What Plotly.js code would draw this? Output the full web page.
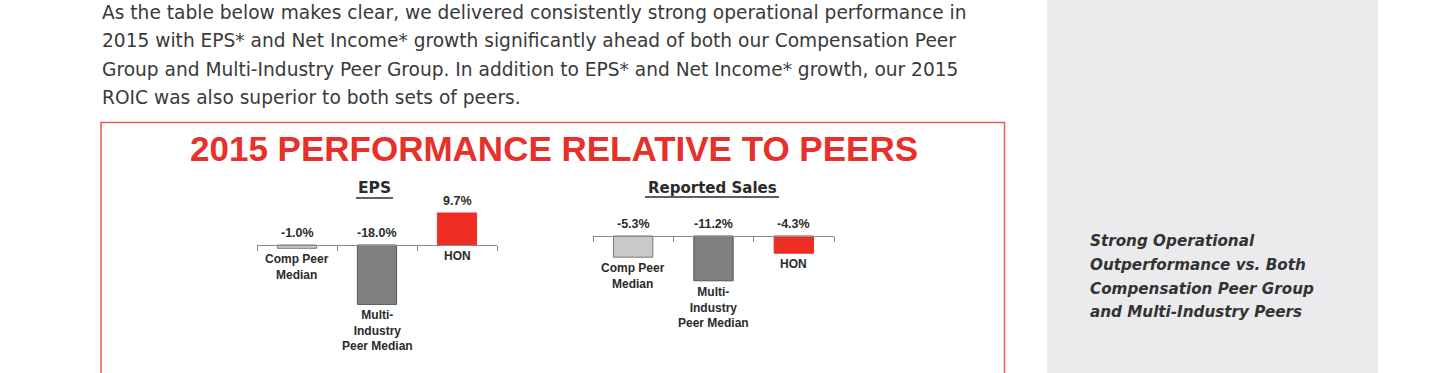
<!DOCTYPE html>
<html>
<head>
<meta charset="utf-8">
<script src="https://cdn.plot.ly/plotly-3.0.1.min.js"></script>
<style>
html,body{margin:0;padding:0;background:#fff;overflow:hidden;}
#chart{width:1440px;height:373px;}
</style>
</head>
<body>
<div id="chart"></div>
<script>
// ---- data ----
const categories = ["Comp Peer Median", "Multi-Industry Peer Median", "HON"];
const categoryLabels = ["Comp Peer<br>Median", "Multi-<br>Industry<br>Peer Median", "HON"];
const epsValues = [-1.0, -18.0, 9.7];
const salesValues = [-5.3, -11.2, -4.3];
const barColors = ["#c9c9c9", "#808080", "#ee2e24"];
const barLines = ["#7a7a7a", "#555555", "#ee2e24"];
const chartTitle = "2015 PERFORMANCE RELATIVE TO PEERS";
const epsTitle = "EPS";
const salesTitle = "Reported Sales";
const introLines = [
  "As the table below makes clear, we delivered consistently strong operational performance in",
  "2015 with EPS* and Net Income* growth significantly ahead of both our Compensation Peer",
  "Group and Multi-Industry Peer Group. In addition to EPS* and Net Income* growth, our 2015",
  "ROIC was also superior to both sets of peers."
];
const sideNoteLines = ["Strong Operational", "Outperformance vs. Both", "Compensation Peer Group", "and Multi-Industry Peers"];

// ---- helpers ----
const W = 1440, H = 373;
const px = x => x / W;
const py = y => 1 - y / H;
const pct = v => v.toFixed(1) + "%";

const bodyFont = "Liberation Sans, Arial, sans-serif";
const wideFont = "DejaVu Sans, Verdana, sans-serif";
const narrowFont = "Liberation Sans Narrow, Liberation Sans, Arial, sans-serif";
const dark = "#2b2b2b";

function barTrace(vals, xa, ya) {
  return {
    type: "bar", x: categories, y: vals, xaxis: xa, yaxis: ya,
    marker: {color: barColors, line: {color: barLines, width: 1}},
    hoverinfo: "skip", showlegend: false
  };
}

function barAnnotations(vals, xr, yr) {
  const out = [];
  vals.forEach((v, i) => {
    out.push({
      xref: xr, yref: yr, x: categories[i], y: Math.max(v, 0),
      yanchor: "bottom", yshift: 3, showarrow: false,
      text: "<b>" + pct(v) + "</b>", font: {family: bodyFont, size: 12.5, color: dark}
    });
    out.push({
      xref: xr, yref: yr, x: categories[i], y: Math.min(v, 0),
      yanchor: "top", yshift: -2, showarrow: false,
      text: "<b>" + categoryLabels[i] + "</b>", font: {family: bodyFont, size: 12, color: dark}
    });
  });
  return out;
}

const data = [
  barTrace(epsValues, "x", "y"),
  barTrace(salesValues, "x2", "y2")
];

const annotations = [];
introLines.forEach((t, i) => {
  annotations.push({
    xref: "paper", yref: "paper", x: px(100), y: py(12 + i * 28.5),
    xanchor: "left", yanchor: "middle", showarrow: false, text: t,
    font: {family: wideFont, size: 18.6, color: "#3a3a3a"}
  });
});
annotations.push({
  xref: "paper", yref: "paper", x: px(554), y: py(148),
  xanchor: "center", yanchor: "middle", showarrow: false,
  text: "<b>" + chartTitle + "</b>",
  font: {family: narrowFont, size: 35, color: "#e8302a"}
});
annotations.push({
  xref: "paper", yref: "paper", x: px(374), y: py(188),
  xanchor: "center", yanchor: "middle", showarrow: false,
  text: "<b>" + epsTitle + "</b>", font: {family: wideFont, size: 15.5, color: dark}
});
annotations.push({
  xref: "paper", yref: "paper", x: px(712), y: py(188),
  xanchor: "center", yanchor: "middle", showarrow: false,
  text: "<b>" + salesTitle + "</b>", font: {family: wideFont, size: 15, color: dark}
});
sideNoteLines.forEach((t, i) => {
  annotations.push({
    xref: "paper", yref: "paper", x: px(1088), y: py(241 + i * 23.8),
    xanchor: "left", yanchor: "middle", align: "left", showarrow: false,
    text: "<b><i>" + t + "</i></b>",
    font: {family: wideFont, size: 15.2, color: "#333"}
  });
});
annotations.push(...barAnnotations(epsValues, "x", "y"));
annotations.push(...barAnnotations(salesValues, "x2", "y2"));

// axis geometry: EPS zero at y=245, 3.3px per %, Sales zero at y=236, 4px per %
const epsTop = 200, epsBot = 320, epsZero = 245, epsScale = 3.3;
const salTop = 200, salBot = 300, salZero = 236, salScale = 4.0;

const xCommon = {
  type: "category", showline: true, linecolor: "#8a8a8a", linewidth: 1,
  ticks: "outside", tickson: "boundaries", ticklen: 5, tickcolor: "#8a8a8a",
  showticklabels: false, showgrid: false, zeroline: false, fixedrange: true,
  range: [-0.5, 2.5]
};
const yCommon = {
  showline: false, showgrid: false, zeroline: false, showticklabels: false,
  ticks: "", fixedrange: true
};

const layout = {
  width: W, height: H,
  margin: {l: 0, r: 0, t: 0, b: 0, pad: 0},
  paper_bgcolor: "#ffffff", plot_bgcolor: "rgba(0,0,0,0)",
  bargap: 0.51,
  showlegend: false,
  xaxis: Object.assign({}, xCommon, {domain: [px(257), px(497)], anchor: "free", position: py(epsZero)}),
  yaxis: Object.assign({}, yCommon, {domain: [py(epsBot), py(epsTop)],
    range: [-(epsBot - epsZero) / epsScale, (epsZero - epsTop) / epsScale]}),
  xaxis2: Object.assign({}, xCommon, {domain: [px(593), px(834)], anchor: "free", position: py(salZero)}),
  yaxis2: Object.assign({}, yCommon, {domain: [py(salBot), py(salTop)],
    range: [-(salBot - salZero) / salScale, (salZero - salTop) / salScale]}),
  shapes: [
    {type: "rect", xref: "paper", yref: "paper", x0: px(1047), x1: px(1378), y0: py(373), y1: py(0),
      fillcolor: "#ebebed", line: {width: 0}, layer: "below"},
    {type: "rect", xref: "paper", yref: "paper", x0: px(101), x1: px(1004.5), y0: py(390), y1: py(122.5),
      fillcolor: "rgba(0,0,0,0)", line: {color: "#ef5a50", width: 1.5}, layer: "below"},
    {type: "line", xref: "paper", yref: "paper", x0: px(356), x1: px(393), y0: py(198), y1: py(198),
      line: {color: dark, width: 1.5}},
    {type: "line", xref: "paper", yref: "paper", x0: px(645), x1: px(779), y0: py(197), y1: py(197),
      line: {color: dark, width: 1.5}}
  ],
  annotations: annotations
};

Plotly.newPlot("chart", data, layout, {displayModeBar: false, staticPlot: true});
</script>
</body>
</html>
